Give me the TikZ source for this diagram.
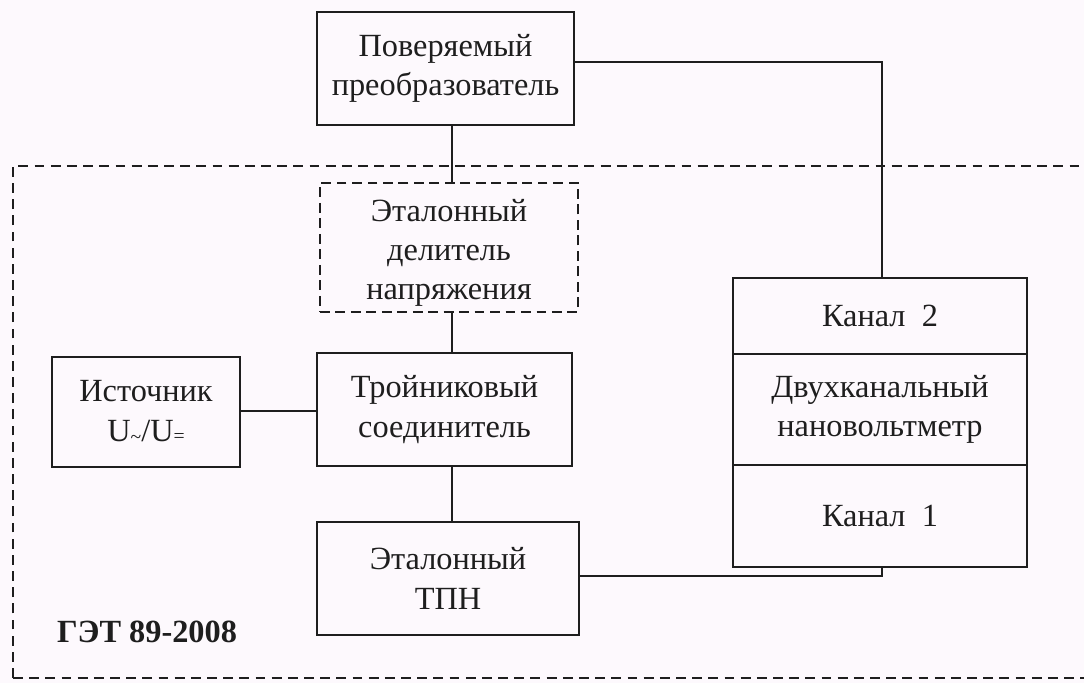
\documentclass[tikz,border=0pt]{standalone}
\usepackage{fontspec}
\setmainfont{Liberation Serif}
\definecolor{bg}{RGB}{253,249,253}
\definecolor{ink}{RGB}{30,30,30}
\begin{document}
\begin{tikzpicture}[x=0.025cm,y=-0.025cm,
  box/.style={draw=ink,line width=1.3pt,rectangle,align=center,inner sep=0pt,
    font=\fontsize{23}{28}\selectfont,text=ink},
  dbox/.style={box,dash pattern=on 7pt off 4pt},
  wire/.style={draw=ink,line width=1.3pt},
  frame/.style={draw=ink,line width=1.3pt,dash pattern=on 7pt off 4.5pt}]
\fill[bg] (0,0) rectangle (1084,683);
\useasboundingbox (0,0) rectangle (1084,683);
\begin{scope}
\clip (0,0) rectangle (1084,683);
\draw[frame] (13,678) -- (13,166) -- (1110,166);
\draw[frame] (13,678) -- (1110,678);
\end{scope}
\node[box,minimum width=6.425cm,minimum height=2.825cm] (dut) at (445.5,68.5) {Поверяемый\\преобразователь};
\node[dbox,fill=bg,minimum width=6.45cm,minimum height=3.225cm] (div) at (449,247.5) {};
\node[text=ink,font=\fontsize{23}{27.5}\selectfont,align=center,inner sep=0pt] (divt) at (449,253) {Эталонный\\делитель\\напряжения};
\node[box,minimum width=6.375cm,minimum height=2.825cm] (tee) at (444.5,409.5) {Тройниковый\\соединитель};
\node[box,minimum width=4.7cm,minimum height=2.75cm] (src) at (146,412) {Источник\\U\raisebox{-0.15ex}{\fontsize{14}{14}\selectfont\char"7E}/U\raisebox{-0.1ex}{\fontsize{14}{14}\selectfont=}};
\node[box,minimum width=6.55cm,minimum height=2.825cm] (tpn) at (448,578.5) {Эталонный\\ТПН};
\node[box,minimum width=7.35cm,minimum height=1.9cm] (ch2) at (880,316) {Канал\ \ 2};
\node[box,minimum width=7.35cm,minimum height=2.775cm] (nv) at (880,409.5) {Двухканальный\\нановольтметр};
\node[box,minimum width=7.35cm,minimum height=2.55cm] (ch1) at (880,516) {Канал\ \ 1};
\node[text=ink,font=\fontsize{23}{27}\selectfont\bfseries] (get) at (147,632) {ГЭТ 89-2008};
\coordinate (k1) at (882,62);
\coordinate (k2) at (882,576);
\draw[wire] (dut.south -| 452,0) -- (div.north -| 452,0);
\draw[wire] (div.south -| 452,0) -- (tee.north -| 452,0);
\draw[wire] (tee.south -| 452,0) -- (tpn.north -| 452,0);
\draw[wire] (src.east |- 0,411) -- (tee.west |- 0,411);
\draw[wire] (dut.east |- k1) -- (k1) -- (ch2.north -| k1);
\draw[wire] (tpn.east |- k2) -- (k2) -- (ch1.south -| k2);
\end{tikzpicture}
\end{document}
